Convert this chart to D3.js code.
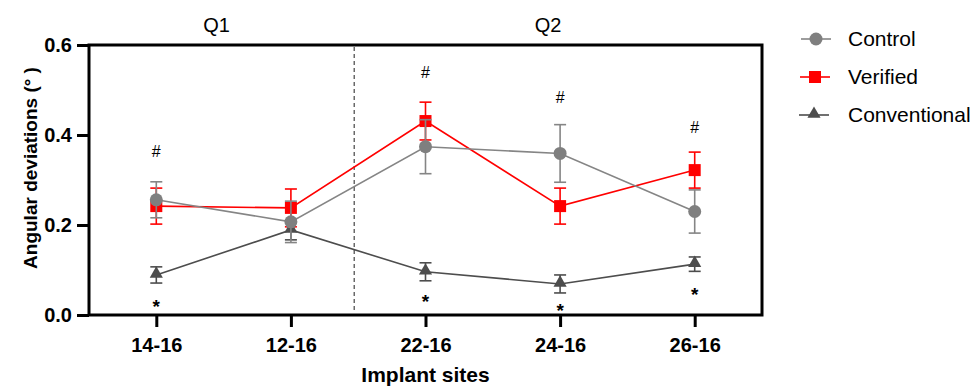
<!DOCTYPE html>
<html>
<head>
<meta charset="utf-8">
<script src="https://cdn.jsdelivr.net/npm/d3@7"></script>
<style>
  body { margin: 0; background: #fff; }
  text { font-family: "Liberation Sans", Arial, Helvetica, sans-serif; }
</style>
</head>
<body>
<script>
// DATA ––––––––––––––––––––––––––––––––––––––––––––––––––––––––––––––

var sites = ["14-16", "12-16", "22-16", "24-16", "26-16"];
var yTicks = [0.0, 0.2, 0.4, 0.6];

var controlMean = [0.256, 0.207, 0.374, 0.359, 0.230];
var controlErr  = [0.040, 0.046, 0.060, 0.064, 0.048];

var verifiedMean = [0.242, 0.238, 0.431, 0.242, 0.322];
var verifiedErr  = [0.040, 0.042, 0.042, 0.040, 0.040];

var conventionalMean = [0.089, 0.189, 0.096, 0.069, 0.113];
var conventionalErr  = [0.018, 0.022, 0.020, 0.020, 0.016];

// significance marks, placed at a value on the y axis
var hashSites = ["14-16", "22-16", "24-16", "26-16"];
var hashLevel = [0.364, 0.540, 0.484, 0.418];
var starSites = ["14-16", "22-16", "24-16", "26-16"];
var starLevel = [0.029, 0.040, 0.020, 0.056];

var quarters = ["Q1", "Q2"];

// SETUP –––––––––––––––––––––––––––––––––––––––––––––––––––––––––––––

var width = 973, height = 386;
var plot = {left: 89, right: 762, top: 45, bottom: 315};

var svg = d3.select("body").append("svg")
    .attr("width", width)
    .attr("height", height);

svg.append("rect")
    .attr("width", width)
    .attr("height", height)
    .attr("fill", "#fff");

var x = d3.scalePoint()
    .domain(sites)
    .range([plot.left, plot.right])
    .padding(0.5);

var y = d3.scaleLinear()
    .domain([0, 0.6])
    .range([plot.bottom, plot.top]);

var series = [
  {name: "Verified", mean: verifiedMean, err: verifiedErr, line: "#ff0000", fill: "#ff0000", shape: "square"},
  {name: "Conventional", mean: conventionalMean, err: conventionalErr, line: "#4d4d4d", fill: "#4d4d4d", shape: "triangle"},
  {name: "Control", mean: controlMean, err: controlErr, line: "#858585", fill: "#7f7f7f", shape: "circle"}
];

// AXES ––––––––––––––––––––––––––––––––––––––––––––––––––––––––––––––

var yAxis = svg.append("g")
    .attr("transform", "translate(" + plot.left + ",0)")
    .call(d3.axisLeft(y).tickValues(yTicks).tickSize(12).tickFormat(d3.format(".1f")));

yAxis.select(".domain").remove();
yAxis.selectAll(".tick line").attr("stroke", "#000").attr("stroke-width", 3);
yAxis.selectAll(".tick text")
    .attr("x", -17)
    .attr("font-size", 20)
    .attr("font-weight", "bold")
    .attr("fill", "#000");

var xAxis = svg.append("g")
    .attr("transform", "translate(0," + plot.bottom + ")")
    .call(d3.axisBottom(x).tickSize(12));

xAxis.select(".domain").remove();
xAxis.selectAll(".tick line").attr("stroke", "#000").attr("stroke-width", 3);
xAxis.selectAll(".tick text")
    .attr("y", 23)
    .attr("font-size", 20)
    .attr("font-weight", "bold")
    .attr("fill", "#000");

// frame round the plot
svg.append("rect")
    .attr("x", plot.left)
    .attr("y", plot.top)
    .attr("width", plot.right - plot.left)
    .attr("height", plot.bottom - plot.top)
    .attr("fill", "none")
    .attr("stroke", "#000")
    .attr("stroke-width", 3);

// dashed divider between the two quadrants
var divX = (x("12-16") + x("22-16")) / 2 - 4;
svg.append("line")
    .attr("x1", divX).attr("x2", divX)
    .attr("y1", plot.top + 2).attr("y2", plot.bottom - 2)
    .attr("stroke", "#444")
    .attr("stroke-width", 1.2)
    .attr("stroke-dasharray", "4,3");

var quarterX = [(plot.left + divX) / 2 - 5, (divX + plot.right) / 2 - 10];
svg.selectAll(".quarter")
    .data(quarters)
    .enter().append("text")
    .attr("class", "quarter")
    .attr("x", function(d, i) { return quarterX[i]; })
    .attr("y", 32)
    .attr("text-anchor", "middle")
    .attr("font-size", 20)
    .text(function(d) { return d; });

svg.append("text")
    .attr("transform", "translate(37," + ((plot.top + plot.bottom) / 2 - 12) + ") rotate(-90)")
    .attr("text-anchor", "middle")
    .attr("font-size", 19)
    .attr("font-weight", "bold")
    .text("Angular deviations (° )");

svg.append("text")
    .attr("x", (plot.left + plot.right) / 2)
    .attr("y", 382)
    .attr("text-anchor", "middle")
    .attr("font-size", 21)
    .attr("font-weight", "bold")
    .text("Implant sites");

// SERIES ––––––––––––––––––––––––––––––––––––––––––––––––––––––––––––

var drawMarker = function(g, shape, fill, cx, cy) {
  if (shape === "circle") {
    g.append("circle").attr("cx", cx).attr("cy", cy).attr("r", 6.5).attr("fill", fill);
  } else if (shape === "square") {
    g.append("rect").attr("x", cx - 6).attr("y", cy - 6).attr("width", 12).attr("height", 12).attr("fill", fill);
  } else {
    g.append("path")
      .attr("d", d3.symbol().type(d3.symbolTriangle).size(75)())
      .attr("transform", "translate(" + cx + "," + (cy - 1) + ")")
      .attr("fill", fill);
  }
};

var line = d3.line()
    .x(function(d) { return x(d.site); })
    .y(function(d) { return y(d.value); });

series.forEach(function(s) {
  var pts = sites.map(function(site, i) { return {site: site, value: s.mean[i], err: s.err[i]}; });
  var g = svg.append("g");

  g.append("path")
    .datum(pts)
    .attr("fill", "none")
    .attr("stroke", s.line)
    .attr("stroke-width", 1.6)
    .attr("d", line);

  pts.forEach(function(p) {
    var cx = x(p.site),
        top = y(p.value + p.err),
        bot = y(p.value - p.err);
    g.append("line").attr("x1", cx).attr("x2", cx).attr("y1", top).attr("y2", bot)
      .attr("stroke", s.line).attr("stroke-width", 1.6);
    [top, bot].forEach(function(cy) {
      g.append("line").attr("x1", cx - 6).attr("x2", cx + 6).attr("y1", cy).attr("y2", cy)
        .attr("stroke", s.line).attr("stroke-width", 1.6);
    });
    drawMarker(g, s.shape, s.fill, cx, y(p.value));
  });
});

// significance marks
svg.selectAll(".hash")
    .data(hashSites)
    .enter().append("text")
    .attr("class", "hash")
    .attr("x", function(d) { return x(d); })
    .attr("y", function(d, i) { return y(hashLevel[i]) + 6; })
    .attr("text-anchor", "middle")
    .attr("font-size", 16)
    .text("#");

svg.selectAll(".star")
    .data(starSites)
    .enter().append("text")
    .attr("class", "star")
    .attr("x", function(d) { return x(d); })
    .attr("y", function(d, i) { return y(starLevel[i]) + 11; })
    .attr("text-anchor", "middle")
    .attr("font-size", 19)
    .attr("font-weight", "bold")
    .text("*");

// LEGEND ––––––––––––––––––––––––––––––––––––––––––––––––––––––––––––

var legendOrder = [series[2], series[0], series[1]];
var legendY = [39, 77, 115];

legendOrder.forEach(function(s, i) {
  var g = svg.append("g"),
      ly = legendY[i],
      lx = 816 - i;
  g.append("line")
    .attr("x1", lx - 15).attr("x2", lx + 15)
    .attr("y1", ly).attr("y2", ly)
    .attr("stroke", s.line)
    .attr("stroke-width", 1.6);
  drawMarker(g, s.shape, s.fill, lx, ly);
  g.append("text")
    .attr("x", 848)
    .attr("y", ly)
    .attr("dy", "0.35em")
    .attr("font-size", 21)
    .text(s.name);
});
</script>
</body>
</html>
